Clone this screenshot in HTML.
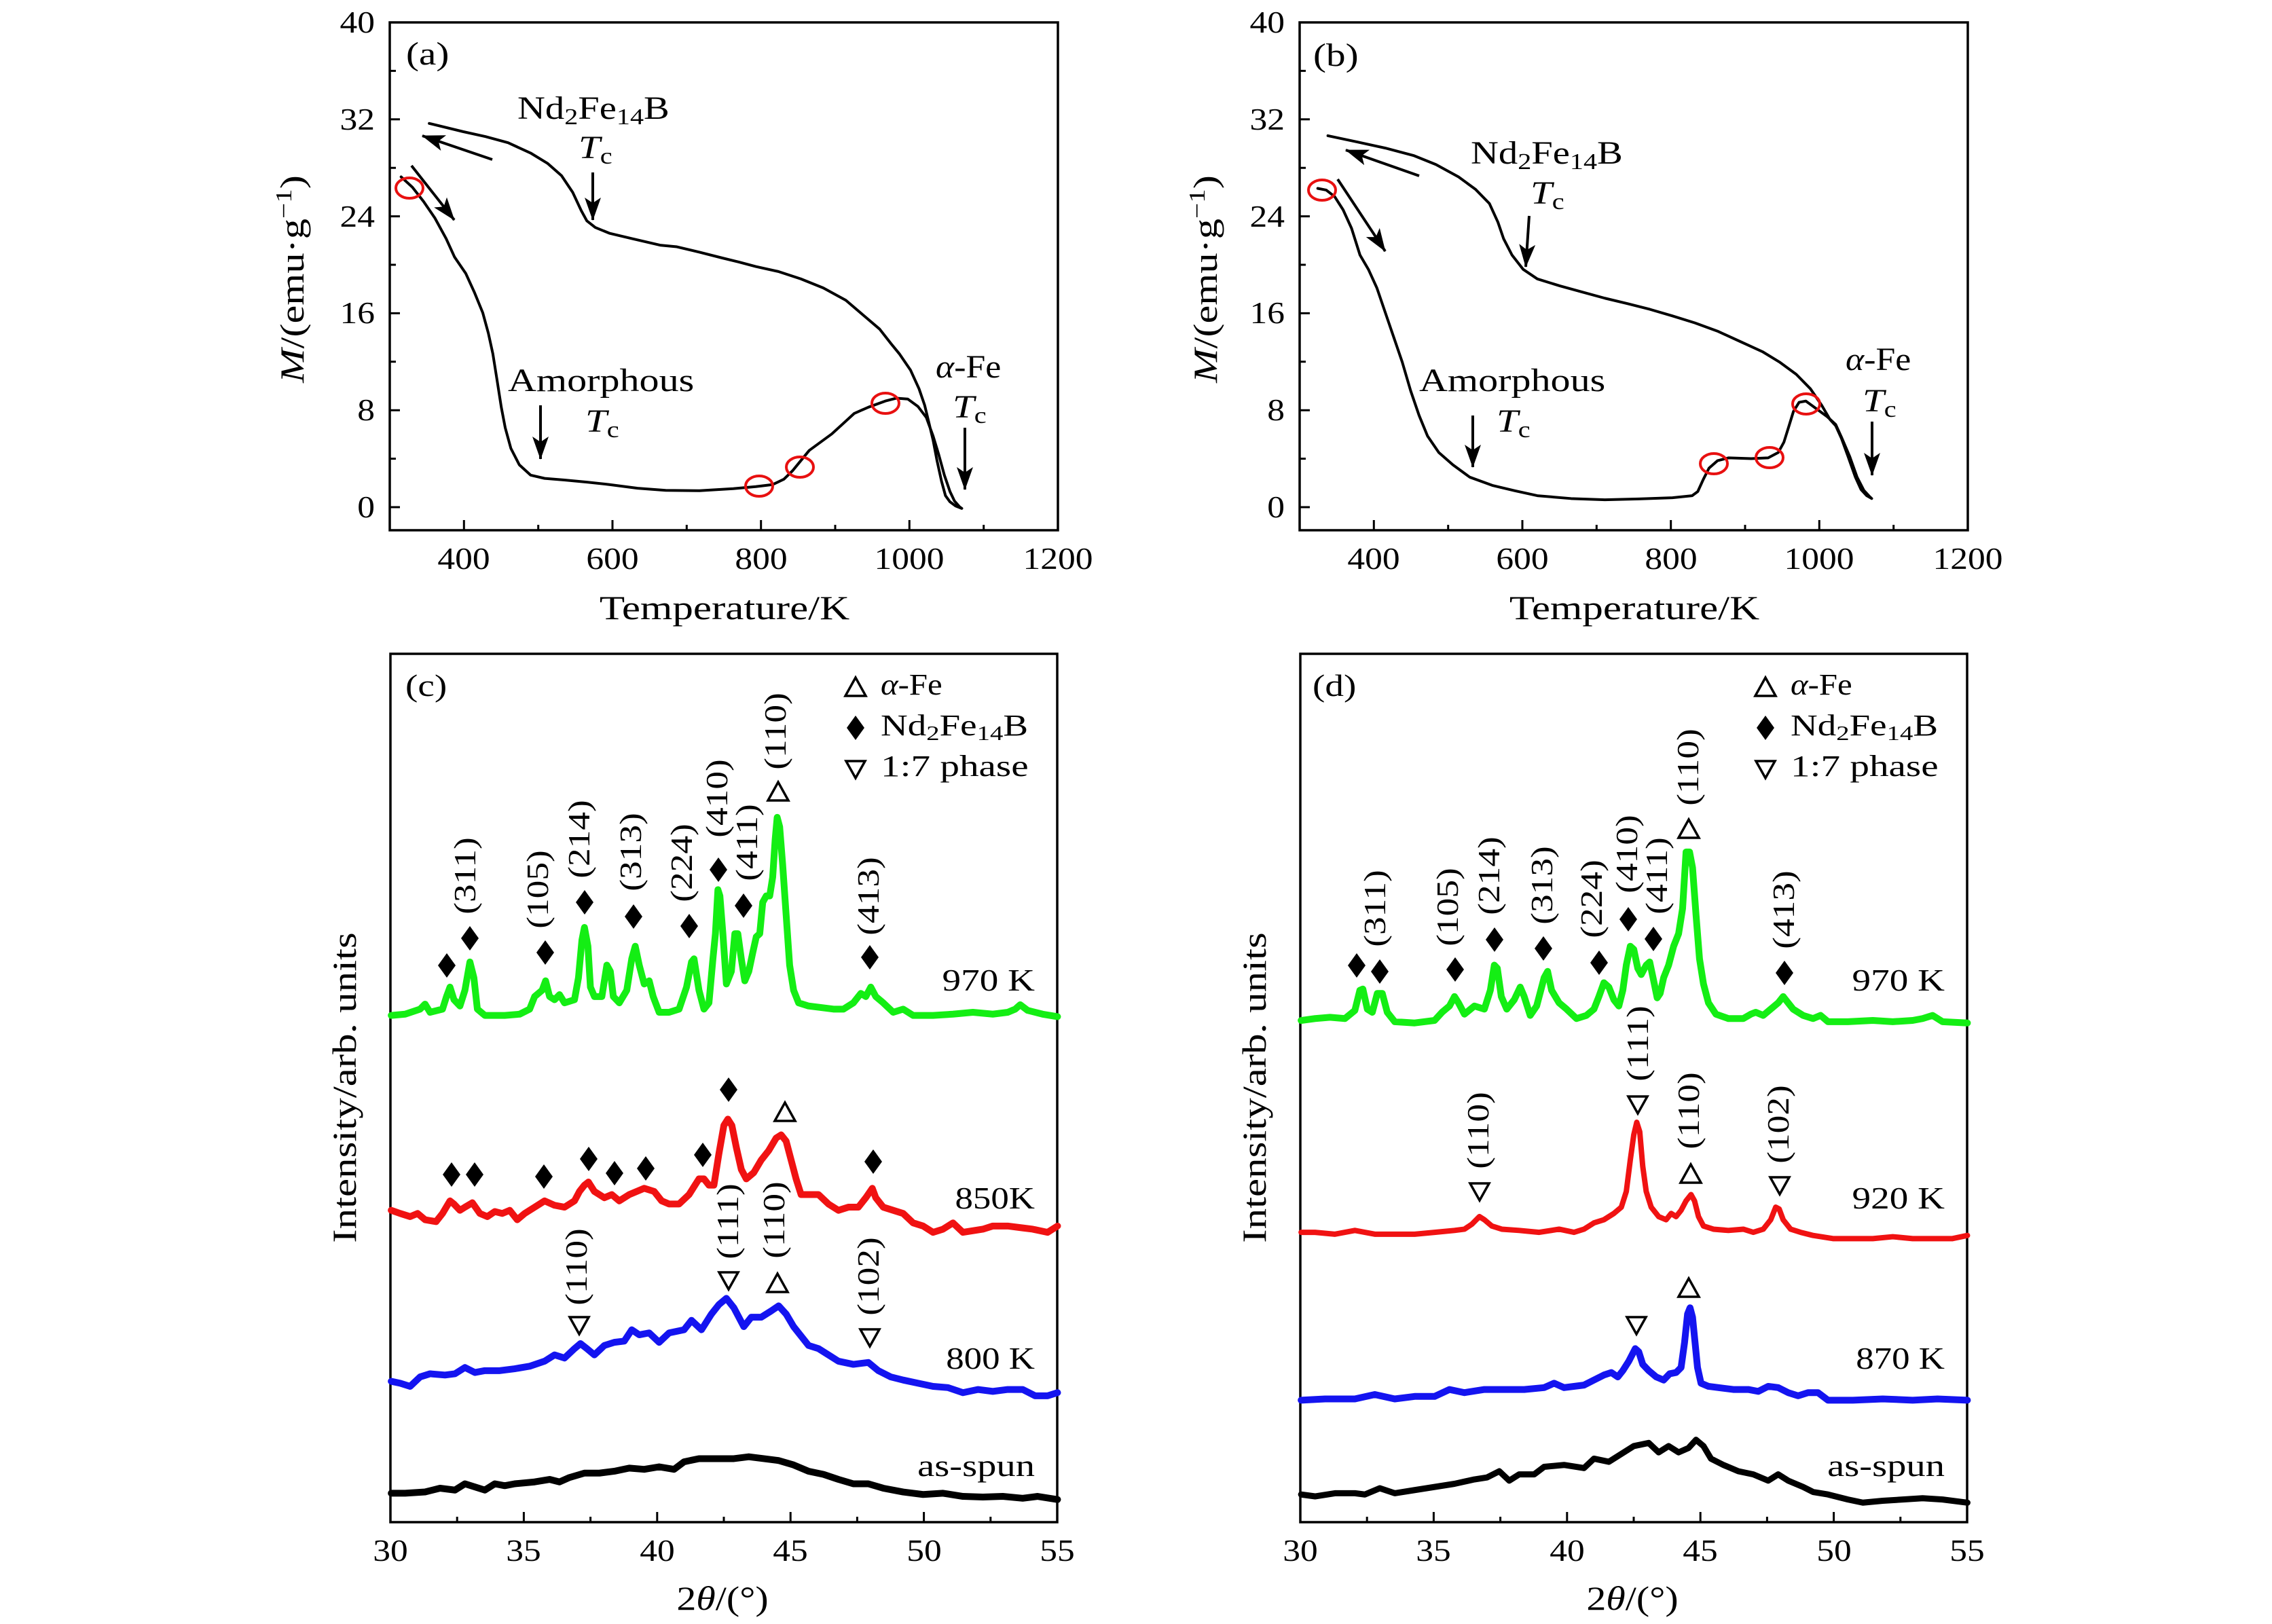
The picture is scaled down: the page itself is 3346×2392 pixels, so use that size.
<!DOCTYPE html>
<html>
<head>
<meta charset="utf-8">
<style>
html,body{margin:0;padding:0;background:#fff;}
svg{display:block;}
text{font-family:"Liberation Serif","DejaVu Serif",serif;fill:#000;}
</style>
</head>
<body>
<svg width="3346" height="2392" viewBox="0 0 3346 2392" xmlns="http://www.w3.org/2000/svg">
<defs>
<marker id="ah" viewBox="0 0 34 26" refX="33" refY="13" markerWidth="34" markerHeight="26" markerUnits="userSpaceOnUse" orient="auto">
<path d="M0,1 L34,13 L0,25 L8,13 Z" fill="#000"/>
</marker>
</defs>
<rect width="3346" height="2392" fill="#fff"/>

<!-- ================= PANEL (a) ================= -->
<rect x="574" y="33" width="984" height="748" fill="none" stroke="#000" stroke-width="3.5"/>
<path d="M574,747h15 M574,604.2h15 M574,461.4h15 M574,318.6h15 M574,175.8h15 M574,675.6h9 M574,532.8h9 M574,390h9 M574,247.2h9 M574,104.4h9
M683.3,781v-15 M902,781v-15 M1120.7,781v-15 M1339.3,781v-15 M792.7,781v-8 M1011.3,781v-8 M1230,781v-8 M1448.7,781v-8" stroke="#000" stroke-width="3"/>
<g font-size="46" text-anchor="end">
<text transform="translate(552,762) scale(1.12,1)">0</text>
<text transform="translate(552,619) scale(1.12,1)">8</text>
<text transform="translate(552,476) scale(1.12,1)">16</text>
<text transform="translate(552,334) scale(1.12,1)">24</text>
<text transform="translate(552,191) scale(1.12,1)">32</text>
<text transform="translate(552,48) scale(1.12,1)">40</text>
</g>
<g font-size="46" text-anchor="middle">
<text transform="translate(683,838) scale(1.12,1)">400</text>
<text transform="translate(902,838) scale(1.12,1)">600</text>
<text transform="translate(1121,838) scale(1.12,1)">800</text>
<text transform="translate(1339,838) scale(1.12,1)">1000</text>
<text transform="translate(1558,838) scale(1.12,1)">1200</text>
</g>
<text transform="translate(1067,912) scale(1.22,1)" font-size="50" text-anchor="middle">Temperature/K</text>
<text transform="translate(447,411) rotate(-90) scale(1.21,1)" font-size="50" text-anchor="middle"><tspan font-style="italic">M</tspan>/(emu·g<tspan font-size="34" dy="-18">−1</tspan><tspan dy="18">)</tspan></text>
<text transform="translate(598,95) scale(1.19,1)" font-size="48">(a)</text>

<g fill="none" stroke="#000" stroke-width="4" stroke-linejoin="round" stroke-linecap="round">
<polyline vector-effect="non-scaling-stroke" transform="translate(400,0) scale(0.82908,0.60587)" points="230,430 250,455 270,490 290,530 310,580 325,625 345,665 360,710 375,760 385,810 393,860 400,920 408,990 415,1040 425,1090 440,1130 460,1155 485,1163 520,1167 560,1172 600,1178 650,1187 700,1192 760,1193 820,1188 860,1183 890,1178 910,1165 925,1145 940,1120 955,1095 975,1075 995,1055 1015,1030 1035,1005 1060,990 1090,975 1110,968 1130,970 1148,988 1163,1015 1175,1060 1185,1105 1195,1155 1205,1195 1213,1218 1222,1232 1226,1236 1215,1230 1205,1220 1197,1205 1190,1170 1182,1120 1175,1070 1168,1030 1160,985 1150,945 1135,900 1115,860 1100,835 1080,800 1050,765 1020,730 980,700 940,678 900,660 860,648 830,637 800,627 760,613 720,600 690,596 640,580 600,567 575,553 560,537 550,512 535,468 515,427 490,397 460,372 420,347 380,332 340,320 280,300"/>
</g>
<g stroke="#000" stroke-width="4" fill="none">
<line x1="725" y1="235" x2="622" y2="200" marker-end="url(#ah)"/>
<line x1="606" y1="244" x2="669" y2="324" marker-end="url(#ah)"/>
<line x1="873" y1="254" x2="873" y2="324" marker-end="url(#ah)"/>
<line x1="796" y1="597" x2="796" y2="676" marker-end="url(#ah)"/>
<line x1="1421" y1="630" x2="1421" y2="721" marker-end="url(#ah)"/>
</g>
<g fill="none" stroke="#e81010" stroke-width="4">
<ellipse cx="603" cy="277" rx="20" ry="15"/>
<ellipse cx="1118" cy="716" rx="20" ry="15"/>
<ellipse cx="1178" cy="688" rx="20" ry="15"/>
<ellipse cx="1304" cy="594" rx="20" ry="15"/>
</g>
<g font-size="48">
<text transform="translate(762,175) scale(1.18,1)">Nd<tspan font-size="34" dy="8">2</tspan><tspan dy="-8">Fe</tspan><tspan font-size="34" dy="8">14</tspan><tspan dy="-8">B</tspan></text>
<text transform="translate(852,233) scale(1.19,1)"><tspan font-style="italic">T</tspan><tspan font-size="34" dy="8">c</tspan></text>
<text transform="translate(748,576) scale(1.21,1)">Amorphous</text>
<text transform="translate(862,636) scale(1.19,1)"><tspan font-style="italic">T</tspan><tspan font-size="34" dy="8">c</tspan></text>
<text transform="translate(1378,556) scale(1.08,1)"><tspan font-style="italic">α</tspan>-Fe</text>
<text transform="translate(1403,615) scale(1.19,1)"><tspan font-style="italic">T</tspan><tspan font-size="34" dy="8">c</tspan></text>
</g>

<!-- ================= PANEL (b) ================= -->
<rect x="1914" y="33" width="984" height="748" fill="none" stroke="#000" stroke-width="3.5"/>
<path d="M1914,747h15 M1914,604.2h15 M1914,461.4h15 M1914,318.6h15 M1914,175.8h15 M1914,675.6h9 M1914,532.8h9 M1914,390h9 M1914,247.2h9 M1914,104.4h9
M2023.3,781v-15 M2242,781v-15 M2460.7,781v-15 M2679.3,781v-15 M2132.7,781v-8 M2351.3,781v-8 M2570,781v-8 M2788.7,781v-8" stroke="#000" stroke-width="3"/>
<g font-size="46" text-anchor="end">
<text transform="translate(1892,762) scale(1.12,1)">0</text>
<text transform="translate(1892,619) scale(1.12,1)">8</text>
<text transform="translate(1892,476) scale(1.12,1)">16</text>
<text transform="translate(1892,334) scale(1.12,1)">24</text>
<text transform="translate(1892,191) scale(1.12,1)">32</text>
<text transform="translate(1892,48) scale(1.12,1)">40</text>
</g>
<g font-size="46" text-anchor="middle">
<text transform="translate(2023,838) scale(1.12,1)">400</text>
<text transform="translate(2242,838) scale(1.12,1)">600</text>
<text transform="translate(2461,838) scale(1.12,1)">800</text>
<text transform="translate(2679,838) scale(1.12,1)">1000</text>
<text transform="translate(2898,838) scale(1.12,1)">1200</text>
</g>
<text transform="translate(2407,912) scale(1.22,1)" font-size="50" text-anchor="middle">Temperature/K</text>
<text transform="translate(1792,411) rotate(-90) scale(1.21,1)" font-size="50" text-anchor="middle"><tspan font-style="italic">M</tspan>/(emu·g<tspan font-size="34" dy="-18">−1</tspan><tspan dy="18">)</tspan></text>
<text transform="translate(1934,97) scale(1.19,1)" font-size="48">(b)</text>

<g fill="none" stroke="#000" stroke-width="4" stroke-linejoin="round" stroke-linecap="round">
<polyline vector-effect="non-scaling-stroke" transform="translate(1750,0) scale(0.82908,0.60587)" points="230,458 245,462 260,478 275,510 290,555 305,620 320,655 335,700 350,760 365,820 380,880 395,950 410,1010 425,1060 445,1100 470,1130 500,1160 540,1180 580,1193 620,1205 680,1212 740,1215 800,1213 860,1210 895,1205 905,1195 915,1165 925,1138 940,1120 960,1113 1000,1115 1030,1113 1048,1100 1058,1075 1066,1040 1075,1000 1085,978 1097,975 1115,993 1135,1013 1150,1032 1160,1062 1175,1110 1188,1160 1200,1192 1210,1207 1214,1212 1205,1205 1195,1190 1185,1160 1172,1110 1160,1065 1150,1035 1140,1020 1125,985 1105,945 1080,910 1050,880 1020,855 980,830 940,805 900,785 860,768 820,752 780,738 740,725 700,710 660,695 620,678 595,655 575,620 560,580 550,540 535,495 510,460 480,430 440,400 400,378 350,360 300,345 248,330"/>
</g>
<g stroke="#000" stroke-width="4" fill="none">
<line x1="2090" y1="259" x2="1982" y2="221" marker-end="url(#ah)"/>
<line x1="1970" y1="264" x2="2040" y2="370" marker-end="url(#ah)"/>
<line x1="2252" y1="318" x2="2247" y2="393" marker-end="url(#ah)"/>
<line x1="2169" y1="612" x2="2169" y2="688" marker-end="url(#ah)"/>
<line x1="2757" y1="621" x2="2757" y2="700" marker-end="url(#ah)"/>
</g>
<g fill="none" stroke="#e81010" stroke-width="4">
<ellipse cx="1947" cy="280" rx="20" ry="15"/>
<ellipse cx="2524" cy="683" rx="20" ry="15"/>
<ellipse cx="2606" cy="674" rx="20" ry="15"/>
<ellipse cx="2660" cy="595" rx="20" ry="15"/>
</g>
<g font-size="48">
<text transform="translate(2166,241) scale(1.18,1)">Nd<tspan font-size="34" dy="8">2</tspan><tspan dy="-8">Fe</tspan><tspan font-size="34" dy="8">14</tspan><tspan dy="-8">B</tspan></text>
<text transform="translate(2254,300) scale(1.19,1)"><tspan font-style="italic">T</tspan><tspan font-size="34" dy="8">c</tspan></text>
<text transform="translate(2090,576) scale(1.21,1)">Amorphous</text>
<text transform="translate(2204,636) scale(1.19,1)"><tspan font-style="italic">T</tspan><tspan font-size="34" dy="8">c</tspan></text>
<text transform="translate(2718,545) scale(1.08,1)"><tspan font-style="italic">α</tspan>-Fe</text>
<text transform="translate(2743,606) scale(1.19,1)"><tspan font-style="italic">T</tspan><tspan font-size="34" dy="8">c</tspan></text>
</g>

<!-- ================= PANEL (c) ================= -->
<rect x="575" y="963" width="982" height="1279" fill="none" stroke="#000" stroke-width="3.5"/>
<path d="M771.4,2242v-15 M967.8,2242v-15 M1164.2,2242v-15 M1360.6,2242v-15 M673.2,2242v-8 M869.6,2242v-8 M1066,2242v-8 M1262.4,2242v-8 M1458.8,2242v-8" stroke="#000" stroke-width="3"/>
<g font-size="46" text-anchor="middle">
<text transform="translate(575,2299) scale(1.12,1)">30</text>
<text transform="translate(771,2299) scale(1.12,1)">35</text>
<text transform="translate(968,2299) scale(1.12,1)">40</text>
<text transform="translate(1164,2299) scale(1.12,1)">45</text>
<text transform="translate(1361,2299) scale(1.12,1)">50</text>
<text transform="translate(1557,2299) scale(1.12,1)">55</text>
</g>
<text transform="translate(1064,2371) scale(1.16,1)" font-size="50" text-anchor="middle">2<tspan font-style="italic">θ</tspan>/(°)</text>
<text transform="translate(524,1602) rotate(-90) scale(1.22,1)" font-size="50" text-anchor="middle">Intensity/arb. units</text>
<text transform="translate(597,1025) scale(1.2,1)" font-size="46">(c)</text>

<g fill="none" stroke-width="10" stroke-linejoin="round" stroke-linecap="round" transform="translate(450,940) scale(0.73342,0.92602)">
<polyline vector-effect="non-scaling-stroke" stroke="#14ee14" points="172,600 200,598 230,590 240,582 250,595 275,590 283,570 290,555 298,575 310,585 320,560 330,515 338,540 345,590 360,600 400,600 430,598 450,590 460,570 475,560 482,545 490,570 500,575 510,567 520,580 540,575 548,540 555,480 560,460 567,490 572,555 580,570 595,570 605,520 612,530 618,570 630,580 645,560 655,510 662,490 670,520 680,550 690,545 698,570 710,595 730,595 750,590 765,555 775,515 780,510 790,560 800,590 810,580 818,510 823,470 828,400 832,410 838,470 845,550 855,530 862,470 868,470 875,510 882,545 890,530 898,500 905,475 912,470 918,420 925,410 932,410 938,380 943,320 947,285 952,300 958,360 965,440 972,520 980,560 990,580 1010,585 1060,590 1080,590 1100,580 1115,565 1125,570 1135,555 1145,570 1160,580 1180,595 1200,590 1220,600 1260,600 1300,598 1340,595 1380,598 1410,595 1425,590 1435,583 1450,592 1480,598 1510,602"/>
<polyline vector-effect="non-scaling-stroke" stroke="#f01212" points="172,910 190,915 210,920 225,915 240,925 262,928 275,915 290,895 298,900 310,910 320,905 335,898 350,915 365,920 380,912 395,915 410,910 425,925 440,915 460,905 480,895 500,902 520,905 540,895 550,880 560,870 568,865 580,880 600,890 615,885 630,895 650,885 680,875 700,880 715,895 730,900 750,900 770,885 790,860 800,860 810,870 820,870 830,820 840,775 848,765 856,775 865,810 875,845 885,860 900,850 915,830 930,815 945,795 955,790 965,800 975,830 985,860 995,885 1010,885 1030,885 1050,900 1070,910 1090,905 1110,905 1125,890 1138,875 1145,890 1160,905 1180,910 1200,915 1220,930 1240,935 1260,945 1280,940 1300,930 1320,945 1360,940 1380,935 1410,935 1440,938 1460,940 1490,945 1510,935"/>
<polyline vector-effect="non-scaling-stroke" stroke="#1414f0" points="172,1182 190,1185 210,1190 230,1175 250,1170 280,1172 300,1170 320,1160 340,1168 360,1165 390,1165 420,1162 450,1158 480,1150 500,1140 520,1145 540,1130 552,1122 565,1130 580,1140 600,1125 620,1120 640,1118 655,1100 670,1108 690,1105 710,1120 730,1105 760,1100 775,1085 795,1100 815,1075 830,1060 845,1050 860,1065 880,1095 895,1080 915,1080 935,1070 950,1062 965,1075 980,1095 995,1110 1010,1125 1030,1130 1050,1140 1070,1150 1100,1155 1130,1152 1150,1165 1175,1175 1200,1180 1230,1185 1260,1190 1290,1192 1320,1200 1350,1195 1380,1198 1410,1195 1440,1195 1465,1205 1490,1205 1510,1200"/>
<polyline vector-effect="non-scaling-stroke" stroke="#000" points="172,1360 200,1360 240,1358 270,1352 300,1355 320,1345 340,1350 360,1355 380,1345 400,1348 420,1345 460,1342 490,1338 510,1342 530,1335 560,1328 590,1328 620,1325 650,1320 680,1322 710,1318 740,1322 760,1310 790,1305 830,1305 860,1305 890,1302 920,1305 950,1308 980,1315 1010,1325 1040,1330 1070,1338 1100,1345 1130,1345 1160,1352 1200,1358 1240,1362 1280,1360 1320,1365 1360,1366 1400,1365 1440,1368 1470,1365 1510,1370"/>
</g>

<!-- markers (c) -->
<g fill="#000">
<path d="M658,1404l13,18l-13,18l-13,-18z M692,1364l13,18l-13,18l-13,-18z M803,1385l13,18l-13,18l-13,-18z M861,1311l13,18l-13,18l-13,-18z M933,1332l13,18l-13,18l-13,-18z M1015,1346l13,18l-13,18l-13,-18z M1058,1263l13,18l-13,18l-13,-18z M1095,1316l13,18l-13,18l-13,-18z M1281,1392l13,18l-13,18l-13,-18z"/>
<path d="M665,1712l13,18l-13,18l-13,-18z M699,1712l13,18l-13,18l-13,-18z M801,1715l13,18l-13,18l-13,-18z M867,1689l13,18l-13,18l-13,-18z M905,1710l13,18l-13,18l-13,-18z M951,1703l13,18l-13,18l-13,-18z M1035,1683l13,18l-13,18l-13,-18z M1073,1587l13,18l-13,18l-13,-18z M1286,1693l13,18l-13,18l-13,-18z"/>
</g>
<g fill="none" stroke="#000" stroke-width="3.5" stroke-linejoin="miter">
<path d="M1146,1152l15,27h-30z M1156,1624l15,27h-30z M1145,1876l15,27h-30z"/>
<path d="M839,1940h28l-14,25z M1059,1874h28l-14,25z M1267,1958h28l-14,25z"/>
</g>
<g font-size="46" text-anchor="middle">
<text transform="translate(700,1290) rotate(-90) scale(1.16,1)">(311)</text>
<text transform="translate(807,1310) rotate(-90) scale(1.16,1)">(105)</text>
<text transform="translate(868,1236) rotate(-90) scale(1.16,1)">(214)</text>
<text transform="translate(944,1255) rotate(-90) scale(1.16,1)">(313)</text>
<text transform="translate(1019,1271) rotate(-90) scale(1.16,1)">(224)</text>
<text transform="translate(1071,1176) rotate(-90) scale(1.16,1)">(410)</text>
<text transform="translate(1115,1241) rotate(-90) scale(1.16,1)">(411)</text>
<text transform="translate(1157,1077) rotate(-90) scale(1.16,1)">(110)</text>
<text transform="translate(1294,1320) rotate(-90) scale(1.16,1)">(413)</text>
<text transform="translate(864,1866) rotate(-90) scale(1.16,1)">(110)</text>
<text transform="translate(1087,1799) rotate(-90) scale(1.16,1)">(111)</text>
<text transform="translate(1155,1797) rotate(-90) scale(1.16,1)">(110)</text>
<text transform="translate(1294,1880) rotate(-90) scale(1.16,1)">(102)</text>
</g>
<g font-size="46" text-anchor="end" xml:space="preserve">
<text transform="translate(1524,1459) scale(1.2,1)">970 K</text>
<text transform="translate(1524,1780) scale(1.15,1)">850K</text>
<text transform="translate(1524,2016) scale(1.15,1)">800   K</text>
<text transform="translate(1524,2174) scale(1.23,1)">as-spun</text>
</g>
<!-- legend (c) -->
<path d="M1260,998l15,27h-30z" fill="none" stroke="#000" stroke-width="3.5"/>
<path d="M1260,1054l13,18l-13,18l-13,-18z" fill="#000"/>
<path d="M1246,1121h28l-14,25z" fill="none" stroke="#000" stroke-width="3.5"/>
<g font-size="44">
<text transform="translate(1297,1023) scale(1.11,1)"><tspan font-style="italic">α</tspan>-Fe</text>
<text transform="translate(1297,1083) scale(1.25,1)">Nd<tspan font-size="31" dy="7">2</tspan><tspan dy="-7">Fe</tspan><tspan font-size="31" dy="7">14</tspan><tspan dy="-7">B</tspan></text>
<text transform="translate(1297,1143) scale(1.3,1)">1:7 phase</text>
</g>

<!-- ================= PANEL (d) ================= -->
<rect x="1915" y="963" width="982" height="1279" fill="none" stroke="#000" stroke-width="3.5"/>
<path d="M2111.4,2242v-15 M2307.8,2242v-15 M2504.2,2242v-15 M2700.6,2242v-15 M2013.2,2242v-8 M2209.6,2242v-8 M2406,2242v-8 M2602.4,2242v-8 M2798.8,2242v-8" stroke="#000" stroke-width="3"/>
<g font-size="46" text-anchor="middle">
<text transform="translate(1915,2299) scale(1.12,1)">30</text>
<text transform="translate(2111,2299) scale(1.12,1)">35</text>
<text transform="translate(2308,2299) scale(1.12,1)">40</text>
<text transform="translate(2504,2299) scale(1.12,1)">45</text>
<text transform="translate(2701,2299) scale(1.12,1)">50</text>
<text transform="translate(2897,2299) scale(1.12,1)">55</text>
</g>
<text transform="translate(2404,2371) scale(1.16,1)" font-size="50" text-anchor="middle">2<tspan font-style="italic">θ</tspan>/(°)</text>
<text transform="translate(1864,1602) rotate(-90) scale(1.22,1)" font-size="50" text-anchor="middle">Intensity/arb. units</text>
<text transform="translate(1933,1025) scale(1.2,1)" font-size="46">(d)</text>

<g fill="none" stroke-linejoin="round" stroke-linecap="round" transform="translate(1790,940) scale(0.73342,0.92602)">
<polyline vector-effect="non-scaling-stroke" stroke="#14ee14" stroke-width="10" points="172,608 200,605 230,603 260,605 280,592 290,560 296,558 305,590 315,595 325,565 335,565 345,595 360,610 400,612 440,608 455,595 470,585 480,570 488,580 500,598 520,585 540,590 552,560 560,520 566,525 574,570 585,590 600,575 612,555 620,570 632,600 645,585 660,540 667,530 675,560 690,580 705,590 725,605 745,600 760,590 770,570 780,548 790,555 800,575 810,585 818,560 825,520 833,490 840,495 848,525 855,535 865,520 872,515 880,545 887,572 893,565 900,540 910,520 920,490 930,470 938,430 945,340 952,340 958,365 965,440 972,510 980,550 990,580 1005,598 1030,605 1060,605 1075,598 1085,595 1100,600 1115,590 1130,580 1140,570 1150,580 1160,590 1180,600 1200,605 1215,600 1230,610 1270,610 1320,608 1360,610 1400,608 1420,605 1440,600 1460,610 1510,612"/>
<polyline vector-effect="non-scaling-stroke" stroke="#f01212" stroke-width="8" points="172,945 200,945 240,948 280,942 320,948 360,948 400,948 440,945 480,942 500,940 515,932 530,920 540,925 555,935 575,940 610,942 650,945 690,940 720,945 740,940 760,930 780,925 800,915 815,905 825,880 833,830 840,790 846,770 852,785 858,840 865,880 875,905 890,920 905,925 915,915 925,920 935,910 945,895 955,885 962,895 970,920 980,935 1000,940 1030,942 1060,940 1080,945 1100,940 1115,925 1125,905 1132,908 1140,925 1155,940 1175,945 1200,950 1240,955 1280,955 1320,955 1360,952 1400,955 1440,955 1480,955 1510,950"/>
<polyline vector-effect="non-scaling-stroke" stroke="#1414f0" stroke-width="10" points="172,1212 220,1210 280,1210 320,1203 360,1210 400,1206 440,1206 470,1195 500,1200 540,1195 580,1195 620,1195 660,1192 680,1185 700,1192 740,1188 760,1180 780,1172 795,1168 808,1175 818,1165 830,1150 843,1130 850,1135 858,1155 870,1165 885,1175 900,1180 912,1170 925,1168 935,1160 942,1120 948,1075 953,1065 958,1080 963,1120 968,1160 975,1185 990,1190 1010,1192 1040,1195 1070,1195 1090,1198 1110,1190 1130,1192 1150,1200 1170,1205 1190,1200 1210,1200 1230,1212 1280,1212 1340,1210 1400,1212 1450,1210 1510,1212"/>
<polyline vector-effect="non-scaling-stroke" stroke="#000" stroke-width="9" points="172,1362 200,1365 240,1360 280,1360 300,1362 330,1352 360,1360 400,1355 440,1350 480,1345 520,1338 545,1335 570,1325 590,1340 610,1330 640,1330 660,1318 700,1315 740,1320 760,1305 790,1310 810,1300 840,1285 870,1280 890,1295 910,1285 930,1295 950,1288 965,1275 980,1285 995,1305 1020,1315 1050,1325 1080,1330 1110,1340 1130,1330 1150,1340 1180,1350 1200,1358 1230,1362 1270,1370 1300,1375 1340,1372 1380,1370 1420,1368 1460,1370 1510,1375"/>
</g>

<!-- markers (d) -->
<g fill="#000">
<path d="M1998,1404l13,18l-13,18l-13,-18z M2032,1413l13,18l-13,18l-13,-18z M2143,1410l13,18l-13,18l-13,-18z M2201,1366l13,18l-13,18l-13,-18z M2273,1379l13,18l-13,18l-13,-18z M2355,1400l13,18l-13,18l-13,-18z M2398,1336l13,18l-13,18l-13,-18z M2435,1365l13,18l-13,18l-13,-18z M2628,1415l13,18l-13,18l-13,-18z"/>
</g>
<g fill="none" stroke="#000" stroke-width="3.5" stroke-linejoin="miter">
<path d="M2487,1207l15,27h-30z M2490,1715l15,27h-30z M2487,1883l15,27h-30z"/>
<path d="M2165,1743h28l-14,25z M2398,1615h28l-14,25z M2607,1734h28l-14,25z M2396,1940h28l-14,25z"/>
</g>
<g font-size="46" text-anchor="middle">
<text transform="translate(2040,1338) rotate(-90) scale(1.16,1)">(311)</text>
<text transform="translate(2147,1336) rotate(-90) scale(1.16,1)">(105)</text>
<text transform="translate(2208,1290) rotate(-90) scale(1.16,1)">(214)</text>
<text transform="translate(2286,1304) rotate(-90) scale(1.16,1)">(313)</text>
<text transform="translate(2359,1324) rotate(-90) scale(1.16,1)">(224)</text>
<text transform="translate(2411,1258) rotate(-90) scale(1.16,1)">(410)</text>
<text transform="translate(2455,1290) rotate(-90) scale(1.16,1)">(411)</text>
<text transform="translate(2501,1130) rotate(-90) scale(1.16,1)">(110)</text>
<text transform="translate(2642,1340) rotate(-90) scale(1.16,1)">(413)</text>
<text transform="translate(2192,1665) rotate(-90) scale(1.16,1)">(110)</text>
<text transform="translate(2427,1537) rotate(-90) scale(1.16,1)">(111)</text>
<text transform="translate(2502,1636) rotate(-90) scale(1.16,1)">(110)</text>
<text transform="translate(2634,1656) rotate(-90) scale(1.16,1)">(102)</text>
</g>
<g font-size="46" text-anchor="end" xml:space="preserve">
<text transform="translate(2864,1459) scale(1.2,1)">970 K</text>
<text transform="translate(2864,1780) scale(1.2,1)">920 K</text>
<text transform="translate(2864,2016) scale(1.15,1)">870   K</text>
<text transform="translate(2864,2174) scale(1.23,1)">as-spun</text>
</g>
<!-- legend (d) -->
<path d="M2600,998l15,27h-30z" fill="none" stroke="#000" stroke-width="3.5"/>
<path d="M2600,1054l13,18l-13,18l-13,-18z" fill="#000"/>
<path d="M2586,1121h28l-14,25z" fill="none" stroke="#000" stroke-width="3.5"/>
<g font-size="44">
<text transform="translate(2637,1023) scale(1.11,1)"><tspan font-style="italic">α</tspan>-Fe</text>
<text transform="translate(2637,1083) scale(1.25,1)">Nd<tspan font-size="31" dy="7">2</tspan><tspan dy="-7">Fe</tspan><tspan font-size="31" dy="7">14</tspan><tspan dy="-7">B</tspan></text>
<text transform="translate(2637,1143) scale(1.3,1)">1:7 phase</text>
</g>
</svg>
</body>
</html>
